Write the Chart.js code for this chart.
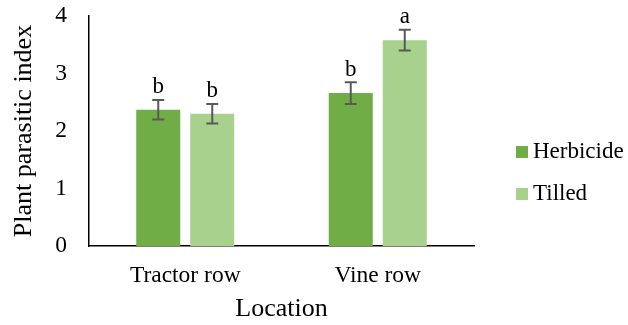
<!DOCTYPE html>
<html>
<head>
<meta charset="utf-8">
<script src="https://cdn.jsdelivr.net/npm/chart.js@4/dist/chart.umd.min.js"></script>
<style>
  html, body { margin: 0; padding: 0; background: #fff; }
  #wrap { width: 628px; height: 325px; position: relative; }
</style>
</head>
<body>
<div id="wrap"><canvas id="c" width="628" height="325"></canvas></div>
<script>
// Plant parasitic index by location and floor management
const locations = ['Tractor row', 'Vine row'];
const seriesNames = ['Herbicide', 'Tilled'];
const herbicide = [2.37, 2.66];
const tilled = [2.30, 3.58];
const herbicideErr = [0.17, 0.19];
const tilledErr = [0.17, 0.18];
const herbicideLetters = ['b', 'b'];
const tilledLetters = ['b', 'a'];
const yTicks = [0, 1, 2, 3, 4];

const SERIF = '"Liberation Serif", "Times New Roman", serif';
const colors = ['#70AD47', '#A9D18E'];

const datasets = [
  { label: seriesNames[0], data: herbicide, err: herbicideErr, letters: herbicideLetters, backgroundColor: colors[0] },
  { label: seriesNames[1], data: tilled, err: tilledErr, letters: tilledLetters, backgroundColor: colors[1] }
];

// Error bars with significance letters above each bar
const errorBars = {
  id: 'errorBars',
  afterDatasetsDraw(chart) {
    const ctx = chart.ctx;
    const y = chart.scales.y;
    chart.data.datasets.forEach((ds, i) => {
      const meta = chart.getDatasetMeta(i);
      meta.data.forEach((bar, j) => {
        const v = ds.data[j], e = ds.err[j];
        const top = y.getPixelForValue(v + e);
        const bot = y.getPixelForValue(v - e);
        const x = bar.x;
        ctx.save();
        ctx.strokeStyle = '#595959';
        ctx.lineWidth = 2;
        ctx.beginPath();
        ctx.moveTo(x, top); ctx.lineTo(x, bot);
        ctx.moveTo(x - 6, top); ctx.lineTo(x + 6, top);
        ctx.moveTo(x - 6, bot); ctx.lineTo(x + 6, bot);
        ctx.stroke();
        ctx.fillStyle = '#000';
        ctx.font = '23px ' + SERIF;
        ctx.textAlign = 'center';
        ctx.textBaseline = 'alphabetic';
        ctx.fillText(ds.letters[j], x, top - 6.5);
        ctx.restore();
      });
    });
  }
};

// Legend to the right of the plot
const sideLegend = {
  id: 'sideLegend',
  afterDraw(chart) {
    const ctx = chart.ctx;
    const rows = [152, 194];
    chart.data.datasets.forEach((ds, i) => {
      ctx.save();
      ctx.fillStyle = ds.backgroundColor;
      ctx.fillRect(516, rows[i] - 6, 12, 12);
      ctx.fillStyle = '#000';
      ctx.font = '23px ' + SERIF;
      ctx.textAlign = 'left';
      ctx.textBaseline = 'middle';
      ctx.fillText(ds.label, 533, rows[i]);
      ctx.restore();
    });
  }
};

new Chart(document.getElementById('c'), {
  type: 'bar',
  data: { labels: locations, datasets },
  options: {
    responsive: false,
    animation: false,
    events: [],
    devicePixelRatio: 1,
    layout: { padding: { top: 16, right: 154, left: 0, bottom: 0 } },
    datasets: { bar: { categoryPercentage: 0.561, barPercentage: 0.815 } },
    plugins: { legend: { display: false }, tooltip: { enabled: false } },
    scales: {
      x: {
        grid: { display: false, drawTicks: false },
        border: { display: true, color: '#000', width: 1.5 },
        ticks: { color: '#000', font: { family: SERIF, size: 23.5 }, padding: 16 },
        title: { display: true, text: 'Location', color: '#000', font: { family: SERIF, size: 26 }, padding: 0 },
        afterFit(s) { s.height = 79; s.paddingLeft = 0; s.paddingRight = 0; }
      },
      y: {
        min: 0, max: 4,
        afterBuildTicks(s) { s.ticks = yTicks.map(v => ({ value: v })); },
        grid: { display: false, drawTicks: false },
        border: { display: true, color: '#000', width: 1.5 },
        ticks: { color: '#000', font: { family: SERIF, size: 23.5 }, padding: 22 },
        title: { display: true, text: 'Plant parasitic index', color: '#000', font: { family: SERIF, size: 26 }, padding: { top: 9, bottom: 0 } },
        afterFit(s) { s.width = 89; s.paddingTop = 0; s.paddingBottom = 0; }
      }
    }
  },
  plugins: [errorBars, sideLegend]
});
</script>
</body>
</html>
